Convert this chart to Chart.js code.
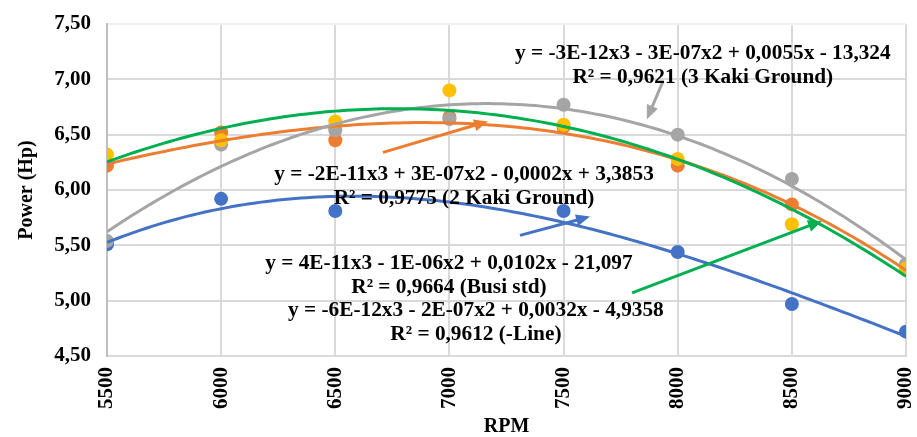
<!DOCTYPE html>
<html>
<head>
<meta charset="utf-8">
<script src="https://cdn.jsdelivr.net/npm/chart.js@4/dist/chart.umd.min.js"></script>
<style>
  html, body { margin: 0; padding: 0; background: #ffffff; }
  #wrap { width: 917px; height: 437px; }
</style>
</head>
<body>
<div id="wrap"><canvas id="c" width="917" height="437"></canvas></div>
<script>
// Engine speed (RPM) and measured power (Hp) for each ignition setup
const rpm      = [5500, 6000, 6500, 7000, 7500, 8000, 8500, 9000];
const busiStd  = [5.51, 5.92, 5.81, null, 5.81, 5.44, 4.97, 4.72];
const kaki2    = [6.22, 6.52, 6.45, 6.66, 6.57, 6.22, 5.87, 5.28];
const kaki3    = [5.54, 6.41, 6.54, 6.64, 6.77, 6.50, 6.10, 5.33];
const negLine  = [6.32, 6.45, 6.62, 6.90, 6.59, 6.28, 5.69, 5.29];

const seriesNames = ['Busi std', '2 Kaki Ground', '3 Kaki Ground', '-Line'];
const yTicks = [4.5, 5.0, 5.5, 6.0, 6.5, 7.0, 7.5];

// Trendline equation labels (as printed on the chart)
const eqBusi  = ['y = 4E-11x3 - 1E-06x2 + 0,0102x - 21,097', 'R² = 0,9664 (Busi std)'];
const eq2Kaki = ['y = -2E-11x3 + 3E-07x2 - 0,0002x + 3,3853', 'R² = 0,9775 (2 Kaki Ground)'];
const eq3Kaki = ['y = -3E-12x3 - 3E-07x2 + 0,0055x - 13,324', 'R² = 0,9621 (3 Kaki Ground)'];
const eqLine  = ['y = -6E-12x3 - 2E-07x2 + 0,0032x - 4,9358', 'R² = 0,9612 (-Line)'];

const C = { blue: '#4472C4', orange: '#ED7D31', gray: '#A5A5A5', yellow: '#FFC000', green: '#00B050' };
const FONT = "'Liberation Serif', 'Times New Roman', serif";

// Least-squares cubic fit (x centred/scaled for numerical stability)
function cubicFit(xs, ys) {
  const pts = xs.map((x, i) => [x, ys[i]]).filter(p => p[1] !== null);
  const n = 4, A = [], b = [];
  for (let i = 0; i < n; i++) { A.push(new Array(n).fill(0)); b.push(0); }
  pts.forEach(([x, y]) => {
    const t = (x - 7250) / 1000;
    for (let i = 0; i < n; i++) {
      for (let j = 0; j < n; j++) A[i][j] += Math.pow(t, i + j);
      b[i] += y * Math.pow(t, i);
    }
  });
  for (let k = 0; k < n; k++) {
    let p = k;
    for (let r = k + 1; r < n; r++) if (Math.abs(A[r][k]) > Math.abs(A[p][k])) p = r;
    [A[k], A[p]] = [A[p], A[k]]; [b[k], b[p]] = [b[p], b[k]];
    for (let r = k + 1; r < n; r++) {
      const f = A[r][k] / A[k][k];
      for (let c = k; c < n; c++) A[r][c] -= f * A[k][c];
      b[r] -= f * b[k];
    }
  }
  const co = new Array(n).fill(0);
  for (let k = n - 1; k >= 0; k--) {
    let s = b[k];
    for (let c = k + 1; c < n; c++) s -= A[k][c] * co[c];
    co[k] = s / A[k][k];
  }
  return x => { const t = (x - 7250) / 1000; return co[0] + co[1]*t + co[2]*t*t + co[3]*t*t*t; };
}

function trendPoints(ys) {
  const f = cubicFit(rpm, ys), out = [];
  for (let x = rpm[0]; x <= rpm[rpm.length - 1]; x += 25) out.push({ x, y: f(x) });
  return out;
}
const toPoints = ys => rpm.map((x, i) => ({ x, y: ys[i] })).filter(p => p.y !== null);

// Callout arrows and equation labels, placed in data units (RPM, Hp)
const arrows = [
  { color: C.orange, from: [6709, 6.34], to: [7169, 6.62] },
  { color: C.gray,   from: [7935, 6.98], to: [7865, 6.64] },
  { color: C.blue,   from: [7309, 5.59], to: [7616, 5.76] },
  { color: C.green,  from: [7800, 5.07], to: [8632, 5.72] }
];
const labels = [
  { lines: eq3Kaki, at: [8110, 7.23] },
  { lines: eq2Kaki, at: [7064, 6.14] },
  { lines: eqBusi,  at: [6998, 5.34] },
  { lines: eqLine,  at: [7116, 4.91] }
];

const annotate = {
  id: 'annotate',
  afterDatasetsDraw(chart) {
    const ctx = chart.ctx, xs = chart.scales.x, ys = chart.scales.y;
    ctx.save();
    arrows.forEach(a => {
      const x1 = xs.getPixelForValue(a.from[0]), y1 = ys.getPixelForValue(a.from[1]);
      const x2 = xs.getPixelForValue(a.to[0]),   y2 = ys.getPixelForValue(a.to[1]);
      const ang = Math.atan2(y2 - y1, x2 - x1), L = 14, W = 6;
      ctx.strokeStyle = a.color; ctx.fillStyle = a.color; ctx.lineWidth = 3;
      ctx.beginPath();
      ctx.moveTo(x1, y1);
      ctx.lineTo(x2 - L * 0.8 * Math.cos(ang), y2 - L * 0.8 * Math.sin(ang));
      ctx.stroke();
      ctx.beginPath();
      ctx.moveTo(x2, y2);
      ctx.lineTo(x2 - L * Math.cos(ang) + W * Math.sin(ang), y2 - L * Math.sin(ang) - W * Math.cos(ang));
      ctx.lineTo(x2 - L * Math.cos(ang) - W * Math.sin(ang), y2 - L * Math.sin(ang) + W * Math.cos(ang));
      ctx.closePath();
      ctx.fill();
    });
    ctx.fillStyle = '#000000';
    ctx.font = 'bold 21.3px ' + FONT;
    ctx.textAlign = 'center';
    ctx.textBaseline = 'middle';
    labels.forEach(l => {
      const x = xs.getPixelForValue(l.at[0]), y = ys.getPixelForValue(l.at[1]);
      l.lines.forEach((t, i) => ctx.fillText(t, x, y + i * 24));
    });
    ctx.restore();
  }
};

const scatterSet = (label, ys, color, order) => ({
  label, data: toPoints(ys), backgroundColor: color, borderColor: color,
  pointRadius: 7, pointHoverRadius: 7, borderWidth: 0, showLine: false, order
});
const trendSet = (label, ys, color, order) => ({
  label: label + ' trend', data: trendPoints(ys), borderColor: color, backgroundColor: color,
  borderWidth: 3, pointRadius: 0, showLine: true, tension: 0, order
});

new Chart(document.getElementById('c'), {
  type: 'scatter',
  data: {
    datasets: [
      trendSet(seriesNames[0], busiStd, C.blue, 3),
      trendSet(seriesNames[1], kaki2, C.orange, 2),
      trendSet(seriesNames[2], kaki3, C.gray, 1),
      trendSet(seriesNames[3], negLine, C.green, 0),
      scatterSet(seriesNames[0], busiStd, C.blue, 7),
      scatterSet(seriesNames[1], kaki2, C.orange, 6),
      scatterSet(seriesNames[2], kaki3, C.gray, 5),
      scatterSet(seriesNames[3], negLine, C.yellow, 4)
    ]
  },
  options: {
    responsive: false,
    animation: false,
    devicePixelRatio: 1,
    layout: { padding: { top: 24, right: 11, left: 0, bottom: 0 } },
    plugins: { legend: { display: false }, tooltip: { enabled: false } },
    scales: {
      x: {
        type: 'linear', min: 5500, max: 9000,
        afterBuildTicks: s => { s.ticks = rpm.map(v => ({ value: v })); },
        afterFit: s => { s.height = 81; s.paddingLeft = 0; s.paddingRight = 0; },
        ticks: {
          callback: v => String(v), minRotation: 90, maxRotation: 90, padding: 11,
          color: '#000000', font: { family: FONT, size: 21, weight: 'bold' }
        },
        grid: { color: '#d9d9d9', lineWidth: 2, drawTicks: false },
        border: { color: '#d9d9d9', width: 2 },
        title: { display: true, text: 'RPM', color: '#000000', padding: { top: 0, bottom: -2 },
                 font: { family: FONT, size: 20, weight: 'bold' } }
      },
      y: {
        min: 4.5, max: 7.5,
        afterBuildTicks: s => { s.ticks = yTicks.map(v => ({ value: v })); },
        afterFit: s => { s.width = 107; s.paddingTop = 0; s.paddingBottom = 0; },
        ticks: {
          callback: v => v.toFixed(2).replace('.', ','), padding: 16,
          color: '#000000', font: { family: FONT, size: 21, weight: 'bold' }
        },
        grid: { color: c => (c.tick && c.tick.value === 7.5) ? '#f0f0f0' : '#d9d9d9', lineWidth: 2, drawTicks: false },
        border: { color: '#bfbfbf', width: 2 },
        title: { display: true, text: 'Power (Hp)', color: '#000000', padding: { top: 15, bottom: 0 },
                 font: { family: FONT, size: 20, weight: 'bold' } }
      }
    }
  },
  plugins: [annotate]
});
</script>
</body>
</html>
